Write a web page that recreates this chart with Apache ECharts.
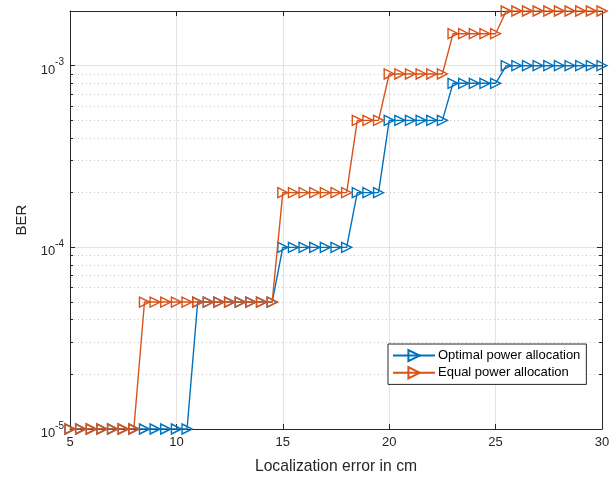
<!DOCTYPE html>
<html>
<head>
<meta charset="utf-8">
<script src="https://cdn.jsdelivr.net/npm/echarts@6/dist/echarts.min.js"></script>
<style>html,body{margin:0;padding:0;background:#fff;}#c{width:613px;height:481px;}</style>
</head>
<body>
<div id="c"></div>
<script>
const xValues = [5,5.5,6,6.5,7,7.5,8,8.5,9,9.5,10,10.5,11,11.5,12,12.5,13,13.5,14,14.5,15,15.5,16,16.5,17,17.5,18,18.5,19,19.5,20,20.5,21,21.5,22,22.5,23,23.5,24,24.5,25,25.5,26,26.5,27,27.5,28,28.5,29,29.5,30];
const optimalBER = [1e-5,1e-5,1e-5,1e-5,1e-5,1e-5,1e-5,1e-5,1e-5,1e-5,1e-5,1e-5,
  5e-5,5e-5,5e-5,5e-5,5e-5,5e-5,5e-5,5e-5,
  1e-4,1e-4,1e-4,1e-4,1e-4,1e-4,1e-4,
  2e-4,2e-4,2e-4,
  5e-4,5e-4,5e-4,5e-4,5e-4,5e-4,
  8e-4,8e-4,8e-4,8e-4,8e-4,
  1e-3,1e-3,1e-3,1e-3,1e-3,1e-3,1e-3,1e-3,1e-3,1e-3];
const equalBER = [1e-5,1e-5,1e-5,1e-5,1e-5,1e-5,1e-5,
  5e-5,5e-5,5e-5,5e-5,5e-5,5e-5,5e-5,5e-5,5e-5,5e-5,5e-5,5e-5,5e-5,
  2e-4,2e-4,2e-4,2e-4,2e-4,2e-4,2e-4,
  5e-4,5e-4,5e-4,
  9e-4,9e-4,9e-4,9e-4,9e-4,9e-4,
  1.5e-3,1.5e-3,1.5e-3,1.5e-3,1.5e-3,
  2e-3,2e-3,2e-3,2e-3,2e-3,2e-3,2e-3,2e-3,2e-3,2e-3];
const minorTickValues = [2e-5,3e-5,4e-5,5e-5,6e-5,7e-5,8e-5,9e-5,2e-4,3e-4,4e-4,5e-4,6e-4,7e-4,8e-4,9e-4];
const seriesNames = ['Optimal power allocation','Equal power allocation'];
const colors = ['#0072BD','#D95319'];

const axisColor = '#262626';
const font = 'Liberation Sans, Arial, sans-serif';
const yMin = 1e-5, yMax = 2e-3;

function pairs(ys){ return xValues.map((x,i)=>[x, ys[i]]); }

const chart = echarts.init(document.getElementById('c'), null, {renderer:'canvas'});
const baseY = { type:'log', logBase:10, min:yMin, max:yMax };
// helper axis in log10 space, used only to draw the minor ticks / dotted minor grid
const minorLog = minorTickValues.map(v => Math.log10(v));
const minorAxis = {
  type:'value', min:Math.log10(yMin), max:Math.log10(yMax),
  axisLine:{show:false},
  axisTick:{show:true, inside:true, length:3, customValues:minorLog, lineStyle:{color:axisColor}},
  axisLabel:{show:false}
};
chart.setOption({
  animation:false,
  backgroundColor:'#fff',
  grid:{left:70, right:11, top:11, bottom:52, containLabel:false},
  legend:{
    left:388, top:344, orient:'vertical',
    data:seriesNames,
    backgroundColor:'#fff', borderColor:axisColor, borderWidth:1,
    padding:[5,6,5,4], itemGap:4, itemWidth:42, itemHeight:14,
    textStyle:{fontFamily:font, fontSize:13, color:'#000', padding:[0,0,0,-2]}
  },
  xAxis:[{
    type:'value', min:5, max:30, interval:5, position:'bottom',
    name:'Localization error in cm', nameLocation:'middle', nameGap:30,
    nameTextStyle:{fontFamily:font, fontSize:15.7, color:axisColor},
    axisLine:{show:true, onZero:false, lineStyle:{color:axisColor, width:1}},
    axisTick:{show:true, inside:true, length:5, lineStyle:{color:axisColor}},
    axisLabel:{fontFamily:font, fontSize:13, color:axisColor, margin:7},
    splitLine:{show:true, lineStyle:{color:'#e3e3e3', width:1}}
  },{
    type:'value', min:5, max:30, interval:5, position:'top',
    axisLine:{show:true, onZero:false, lineStyle:{color:axisColor, width:1}},
    axisTick:{show:true, inside:true, length:5, lineStyle:{color:axisColor}},
    axisLabel:{show:false}, splitLine:{show:false}
  }],
  yAxis:[Object.assign({}, baseY, {
    position:'left',
    name:'BER', nameLocation:'middle', nameGap:35,
    nameTextStyle:{fontFamily:font, fontSize:15, color:axisColor},
    axisLine:{show:true, onZero:false, lineStyle:{color:axisColor, width:1}},
    axisTick:{show:true, inside:true, length:5, lineStyle:{color:axisColor}},
    axisLabel:{
      margin:6, fontFamily:font,
      formatter:function(v){
        const e = Math.log10(v);
        if (Math.abs(e - Math.round(e)) > 1e-6) return '';
        return '{b|10}{s|' + Math.round(e) + '}';
      },
      rich:{
        b:{fontFamily:font, fontSize:13, color:axisColor, verticalAlign:'bottom', lineHeight:22},
        s:{fontFamily:font, fontSize:10, color:axisColor, verticalAlign:'top', lineHeight:22, padding:[3,0,0,0]}
      }
    },
    splitLine:{show:true, lineStyle:{color:'#e3e3e3', width:1}}
  }), Object.assign({}, baseY, {
    position:'right',
    axisLine:{show:true, onZero:false, lineStyle:{color:axisColor, width:1}},
    axisTick:{show:true, inside:true, length:5, lineStyle:{color:axisColor}},
    axisLabel:{show:false}, splitLine:{show:false}
  }), Object.assign({}, minorAxis, {
    position:'left',
    splitLine:{show:true, lineStyle:{color:'#c8c8c8', type:[1,3], width:1}}
  }), Object.assign({}, minorAxis, {
    position:'right',
    splitLine:{show:false}
  })],
  series:[{
    name:seriesNames[0], type:'line', data:pairs(optimalBER), yAxisIndex:0,
    color:colors[0],
    lineStyle:{color:colors[0], width:1.4},
    symbol:'triangle', symbolRotate:-90, symbolSize:[10,10],
    itemStyle:{color:'rgba(255,255,255,0)', borderColor:colors[0], borderWidth:1.4},
    z:3
  },{
    name:seriesNames[1], type:'line', data:pairs(equalBER), yAxisIndex:0,
    color:colors[1],
    lineStyle:{color:colors[1], width:1.4},
    symbol:'triangle', symbolRotate:-90, symbolSize:[10,10],
    itemStyle:{color:'rgba(255,255,255,0)', borderColor:colors[1], borderWidth:1.4},
    z:4
  }]
});
</script>
</body>
</html>
